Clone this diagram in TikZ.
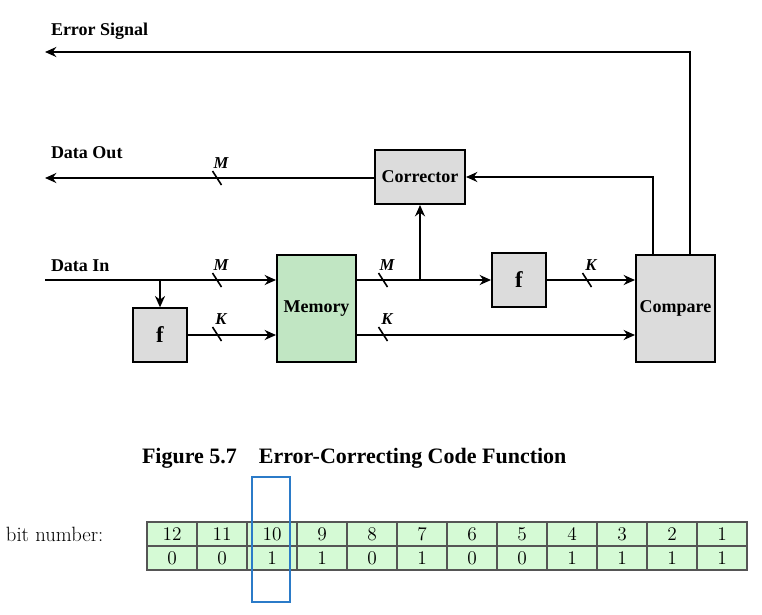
\documentclass[tikz,border=0pt]{standalone}
\usepackage{fontspec}
\usepackage{tikz}
\newfontfamily\diagfont{Liberation Serif}
\usetikzlibrary{arrows.meta,positioning}
\definecolor{boxgray}{HTML}{DCDCDC}
\definecolor{memgreen}{HTML}{C1E6C3}
\definecolor{cellgreen}{HTML}{D5FAD5}
\definecolor{hlblue}{HTML}{2B7BC8}
\definecolor{gridgray}{HTML}{555555}

\begin{document}
\begin{tikzpicture}[x=0.75pt,y=-0.75pt,>={Stealth[length=8.5pt,width=7.5pt]},
                    line width=1.5pt,
                    block/.style={draw,fill=boxgray,inner sep=0pt,
                      font=\diagfont\fontsize{13.5}{15}\selectfont\bfseries},
                    sig label/.style={anchor=west,inner sep=0pt,
                      font=\diagfont\fontsize{13.5}{15}\selectfont\bfseries},
                    bus label/.style={inner sep=0pt,
                      font=\diagfont\fontsize{12.5}{14}\selectfont\bfseries\itshape},
                    cell/.style={draw=gridgray,line width=0.8pt,fill=cellgreen,
                      minimum width=37.5pt,minimum height=18pt,inner sep=0pt,
                      font=\fontsize{14.5}{16}\selectfont}]

      \useasboundingbox (0,0) rectangle (762,614);

      % blocks
      \node[block,minimum width=67.5pt,minimum height=40.5pt] (corr) at (420,177) {Corrector};
      \node[block,minimum width=40.5pt,minimum height=40pt,font=\diagfont\fontsize{17}{19}\selectfont\bfseries] (f1) at (160,335) {f};
      \node[block,fill=memgreen,minimum width=59.25pt,minimum height=80.25pt] (mem) at (316.5,308.5) {Memory};
      \node[block,minimum width=40.5pt,minimum height=40.5pt,font=\diagfont\fontsize{17}{19}\selectfont\bfseries] (f2) at (519,280) {f};
      \node[block,minimum width=59.25pt,minimum height=80.25pt] (cmp) at (675.5,308.5) {Compare};

      % signal names
      \node[sig label] (errlbl) at (50,31) {Error Signal};
      \node[sig label] (outlbl) at (50,153) {Data Out};
      \node[sig label] (inlbl) at (50,266) {Data In};
      \coordinate (errout) at (45,52);
      \coordinate (dataout) at (45,178);
      \coordinate (datain) at (45,280);

      \draw[->] ([xshift=10.9pt]cmp.north) |- (errout);
      \draw[->] ([xshift=-16.9pt]cmp.north) |- (corr.east);
      \draw[->] (corr.west |- dataout) -- (dataout);
      \draw[->] (datain) -- (datain -| mem.west);
      \draw[->] (f1.north |- datain) -- (f1.north);
      \draw[->] (f1.east) -- (f1.east -| mem.west);
      \draw[->] (mem.east |- f2.west) -- (f2.west);
      \draw[->] (corr.south |- f2.west) -- (corr.south);
      \draw[->] (f2.east) -- (f2.east -| cmp.west);
      \draw[->] (mem.east |- f1.east) -- (cmp.west |- f1.east);

      % bus widths
      \foreach \sx/\sy/\lbl in {217/178/M,217/280/M,217/334/K,383/280/M,383/334/K,587/280/K}{
        \draw[line width=1.2pt] (\sx-4.5,\sy-7) -- (\sx+4.5,\sy+7);
        \node[bus label] (bus\sx-\sy) at (\sx+4,\sy-15) {\lbl};
      }

      \node[anchor=west,inner sep=0pt,font=\diagfont\fontsize{16.5}{18}\selectfont\bfseries]
        (caption) at (141,458) {Figure 5.7\quad Error-Correcting Code Function};

      % bit table
      \node[anchor=west,inner sep=0pt,font=\fontsize{15.5}{17}\selectfont] (bitlbl) at (5,534) {bit number:};
      \foreach \n/\b [count=\i] in {12/0,11/0,10/1,9/1,8/0,7/1,6/0,5/0,4/1,3/1,2/1,1/1}{
        \node[cell] (num\i) at (122+50*\i,534) {\n};
        \node[cell] (bit\i) at (122+50*\i,558) {\b};
      }
      \node[draw=hlblue,line width=1.5pt,minimum width=28.5pt,minimum height=93.75pt,inner sep=0pt]
        (hl) at (271,539.5) {};
    \end{tikzpicture}
\end{document}
